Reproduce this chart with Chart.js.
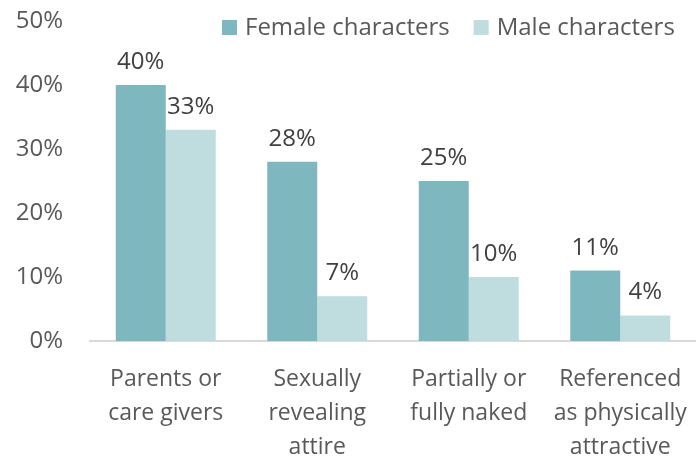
<!DOCTYPE html>
<html><head><meta charset="utf-8">
<script src="https://cdn.jsdelivr.net/npm/chart.js@4.4.0/dist/chart.umd.min.js"></script>
<style>html,body{margin:0;padding:0;background:#fff;}#wrap{width:696px;height:457px;}</style>
</head><body><div id="wrap"><canvas id="c" width="696" height="457"></canvas></div>
<script>
const categories = [["Parents or","care givers"],["Sexually","revealing","attire"],["Partially or","fully naked"],["Referenced","as physically","attractive"]];
const female = [40, 28, 25, 11];
const male = [33, 7, 10, 4];
const seriesNames = ["Female characters", "Male characters"];
const yTicks = [0, 10, 20, 30, 40, 50];
const FONT = "'Open Sans', 'Noto Sans', sans-serif";

const labelPlugin = {
  id: 'labels',
  afterDatasetsDraw(chart) {
    const ctx = chart.ctx;
    ctx.save();
    ctx.font = "24px " + FONT;
    ctx.fillStyle = "#404040";
    ctx.textAlign = "center";
    ctx.textBaseline = "alphabetic";
    chart.data.datasets.forEach((ds, i) => {
      chart.getDatasetMeta(i).data.forEach((bar, j) => {
        ctx.fillText(ds.data[j] + "%", bar.x, bar.y - 16);
      });
    });
    ctx.restore();
  }
};
const legendPlugin = {
  id: 'customLegend',
  afterDraw(chart) {
    const ctx = chart.ctx;
    ctx.save();
    ctx.font = "24px " + FONT;
    ctx.textBaseline = "alphabetic";
    ctx.textAlign = "left";
    let x = 222;
    chart.data.datasets.forEach((ds, i) => {
      ctx.fillStyle = ds.backgroundColor;
      ctx.fillRect(x, 20, 15, 15);
      ctx.fillStyle = "#595959";
      ctx.fillText(ds.label, x + 23, 35);
      x += 23 + ctx.measureText(ds.label).width + 24;
    });
    ctx.restore();
  }
};

new Chart(document.getElementById('c'), {
  type: 'bar',
  data: {
    labels: categories,
    datasets: [
      { label: seriesNames[0], data: female, backgroundColor: "#7FB7BE", categoryPercentage: 0.66, barPercentage: 1.0 },
      { label: seriesNames[1], data: male, backgroundColor: "#BFDDDF", categoryPercentage: 0.66, barPercentage: 1.0 }
    ]
  },
  options: {
    responsive: false,
    animation: false,
    devicePixelRatio: 1,
    layout: { padding: { top: 21, left: 15, right: 0, bottom: 0 } },
    plugins: { legend: { display: false }, tooltip: { enabled: false } },
    scales: {
      x: {
        afterFit(axis) { axis.height = 116; axis.paddingLeft = 0; axis.paddingRight = 0; },
        grid: { display: false, drawTicks: false },
        border: { display: true, color: "#D9D9D9", width: 2 },
        ticks: { color: "#595959", font: { family: FONT, size: 23, lineHeight: 1.478 }, padding: 21, maxRotation: 0, autoSkip: false }
      },
      y: {
        min: 0, max: 50,
        afterFit(axis) { axis.width = 75; axis.paddingTop = 0; axis.paddingBottom = 0; },
        afterBuildTicks(axis) { axis.ticks = yTicks.map(v => ({ value: v })); },
        grid: { display: false, drawTicks: false },
        border: { display: false },
        ticks: { color: "#595959", font: { family: FONT, size: 24 }, padding: 27, callback: v => v + "%" }
      }
    }
  },
  plugins: [labelPlugin, legendPlugin]
});
</script></body></html>
